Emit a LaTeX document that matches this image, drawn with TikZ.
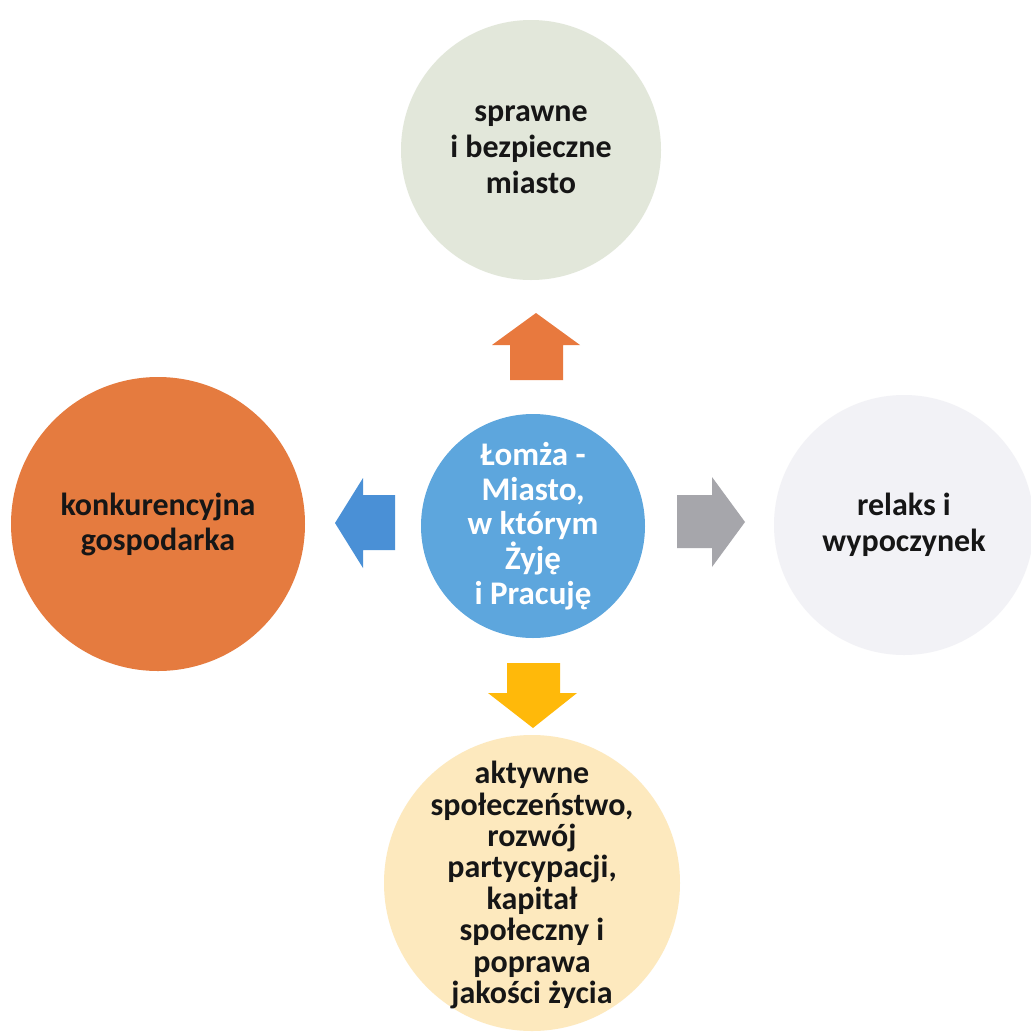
\documentclass[tikz,border=0pt]{standalone}
\usepackage{fontspec}
\setmainfont{Carlito}
\newcommand\bubblefont[2]{\bfseries\fontsize{#1}{#2}\selectfont\lineskiplimit=-50pt\relax}
\begin{document}
\begin{tikzpicture}[x=1pt,y=-1pt,
  bubble/.style={circle,inner sep=0pt,align=center,text=txtdark,
    font=\bubblefont{32}{35}},
]
\definecolor{txtdark}{RGB}{22,22,22}
\definecolor{cgreen}{RGB}{226,231,218}
\definecolor{cblue}{RGB}{93,166,221}
\definecolor{corange}{RGB}{229,123,63}
\definecolor{cgray}{RGB}{242,242,246}
\definecolor{cyellow}{RGB}{253,233,190}
\definecolor{aorange}{RGB}{232,121,62}
\definecolor{agray}{RGB}{166,166,171}
\definecolor{ayellow}{RGB}{255,185,10}
\definecolor{ablue}{RGB}{74,144,214}
\clip (0,0) rectangle (1031,1034);
\fill[white] (0,0) rectangle (1031,1034);

\node[bubble,fill=cgreen,minimum size=260pt,font=\bubblefont{32}{36}] (top) at (531,150) {sprawne\\i bezpieczne\\miasto};
\node[bubble,fill=cblue,minimum size=224pt,text=white,font=\bubblefont{33}{34.7}] (mid) at (533,526) {Łomża -\\Miasto,\\w którym\\Żyję\\i Pracuję};
\node[bubble,fill=corange,minimum size=294pt] (left) at (158,524) {konkurencyjna\\gospodarka};
\node[bubble,fill=cgray,minimum size=260pt,font=\bubblefont{32}{36}] (right) at (904,525) {relaks i\\wypoczynek};
\node[bubble,fill=cyellow,minimum size=296pt,
  label={[align=center,text=txtdark,font=\bubblefont{32}{31.4},yshift=-2pt]center:aktywne\\społeczeństwo,\\rozwój\\partycypacji,\\kapitał\\społeczny i\\poprawa\\jakości życia}] (bot) at (532,883) {};

% block arrows
\fill[aorange] (510,380) -- (510,345) -- (492,345) -- (536,313) -- (580,345) -- (563,345) -- (563,380) -- cycle;
\fill[ayellow] (507,663) -- (507,693) -- (488,693) -- (533,728) -- (577,693) -- (560,693) -- (560,663) -- cycle;
\fill[ablue] (395,495) -- (363,495) -- (363,478) -- (335,523) -- (363,568) -- (363,550) -- (395,550) -- cycle;
\fill[agray] (677,495) -- (712,495) -- (712,477) -- (745,522) -- (712,567) -- (712,548) -- (677,548) -- cycle;
\end{tikzpicture}
\end{document}
